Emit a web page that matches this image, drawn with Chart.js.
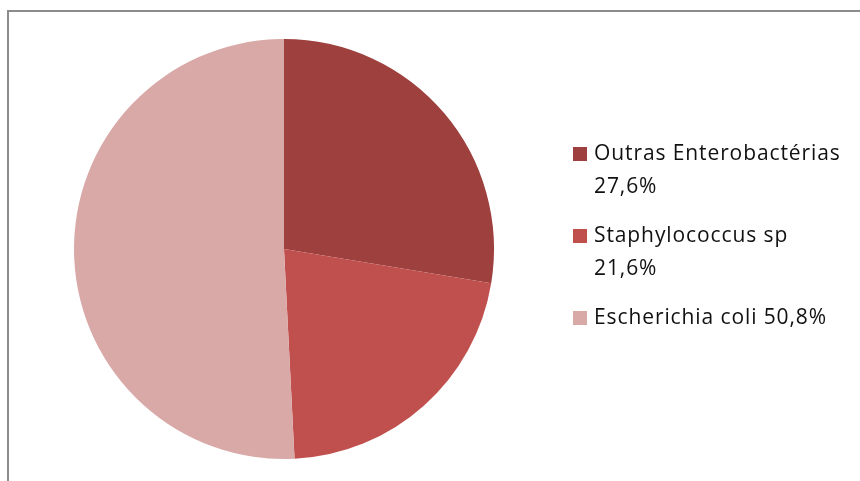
<!DOCTYPE html>
<html>
<head>
<meta charset="utf-8">
<script src="https://cdn.jsdelivr.net/npm/chart.js@4.4.1/dist/chart.umd.min.js"></script>
<style>
  html, body { margin: 0; padding: 0; background: #fff; }
  #wrap { position: relative; width: 860px; height: 481px; overflow: hidden; }
  #frame { position: absolute; left: 7px; top: 10px; width: 900px; height: 500px;
           border-top: 2px solid #8c8c8c; border-left: 2px solid #8c8c8c; }
  #pieChart { position: absolute; left: 0; top: 0; }
  #legend { position: absolute; left: 573px; top: 136px; font-family: "Open Sans", sans-serif;
            font-size: 21px; letter-spacing: 0.9px; color: #111; line-height: 33px; white-space: nowrap; }
  .item { position: relative; padding-left: 21px; margin-bottom: 16px; }
  .box { position: absolute; left: 0; top: 11px; width: 14px; height: 14px; }
</style>
</head>
<body>
<div id="wrap">
  <div id="frame"></div>
  <canvas id="pieChart" width="860" height="481"></canvas>
  <div id="legend"></div>
</div>
<script>
// categories and values (percent)
const categories = ['Outras Enterobactérias', 'Staphylococcus sp', 'Escherichia coli'];
const values = [27.6, 21.6, 50.8];
const valueLabels = ['27,6%', '21,6%', '50,8%'];
const colors = ['#9e403e', '#c0504d', '#d9a9a8'];

// legend lines (how the original wraps them)
const legendLines = [
  ['Outras Enterobactérias', '27,6%'],
  ['Staphylococcus sp', '21,6%'],
  ['Escherichia coli 50,8%']
];

const ctx = document.getElementById('pieChart');

const pieChart = new Chart(ctx, {
  type: 'pie',
  data: {
    labels: categories,
    datasets: [{
      data: values,
      backgroundColor: colors,
      borderWidth: 0
    }]
  },
  options: {
    responsive: false,
    animation: false,
    layout: {
      padding: { left: 74, right: 366, top: 39, bottom: 22 }
    },
    plugins: {
      legend: { display: false },
      tooltip: { enabled: false }
    }
  }
});

// build the legend on the right
const legendEl = document.getElementById('legend');
legendLines.forEach(function(lines, i) {
  const item = document.createElement('div');
  item.className = 'item';
  const box = document.createElement('span');
  box.className = 'box';
  box.style.background = colors[i];
  item.appendChild(box);
  item.appendChild(document.createTextNode(lines[0]));
  for (let k = 1; k < lines.length; k++) {
    item.appendChild(document.createElement('br'));
    item.appendChild(document.createTextNode(lines[k]));
  }
  legendEl.appendChild(item);
});
</script>
</body>
</html>
